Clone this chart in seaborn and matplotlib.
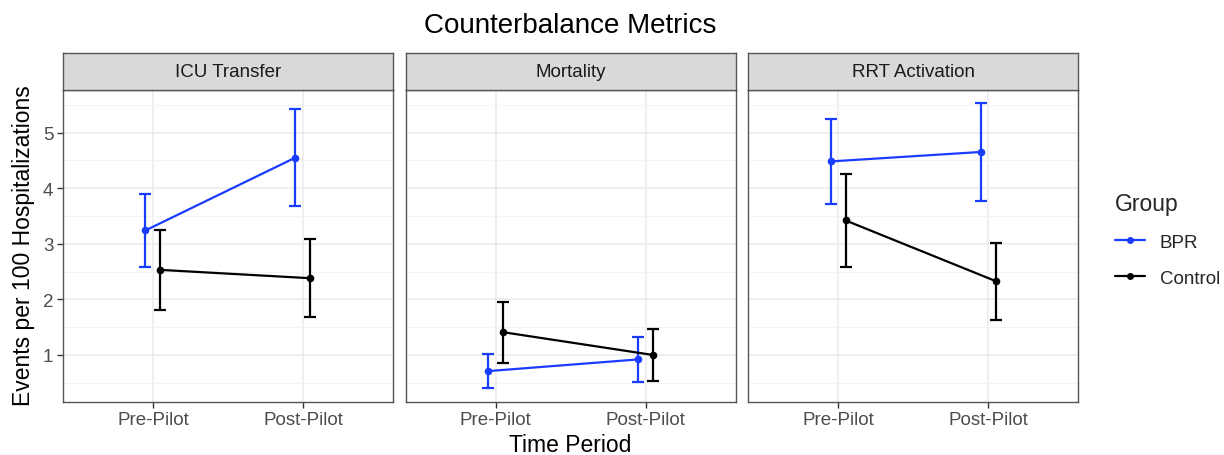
import numpy as np
import pandas as pd
import matplotlib
matplotlib.use("Agg")
import matplotlib.pyplot as plt
from matplotlib.lines import Line2D
import seaborn as sns

# ---- data ----
metrics = ["ICU Transfer", "Mortality", "RRT Activation"]
periods = ["Pre-Pilot", "Post-Pilot"]
groups = ["BPR", "Control"]

bpr_mean = {"ICU Transfer": [3.24, 4.55], "Mortality": [0.71, 0.92], "RRT Activation": [4.48, 4.65]}
bpr_low = {"ICU Transfer": [2.59, 3.68], "Mortality": [0.40, 0.52], "RRT Activation": [3.72, 3.76]}
bpr_high = {"ICU Transfer": [3.89, 5.43], "Mortality": [1.02, 1.33], "RRT Activation": [5.25, 5.53]}

ctl_mean = {"ICU Transfer": [2.53, 2.38], "Mortality": [1.41, 1.00], "RRT Activation": [3.42, 2.33]}
ctl_low = {"ICU Transfer": [1.81, 1.68], "Mortality": [0.86, 0.54], "RRT Activation": [2.58, 1.63]}
ctl_high = {"ICU Transfer": [3.25, 3.08], "Mortality": [1.96, 1.46], "RRT Activation": [4.26, 3.01]}

colors = {"BPR": "#1a3cff", "Control": "#000000"}

rows = []
for m in metrics:
    for i, p in enumerate(periods):
        rows.append(dict(metric=m, period=p, group="BPR", value=bpr_mean[m][i],
                         lo=bpr_low[m][i], hi=bpr_high[m][i]))
        rows.append(dict(metric=m, period=p, group="Control", value=ctl_mean[m][i],
                         lo=ctl_low[m][i], hi=ctl_high[m][i]))
df = pd.DataFrame(rows)

sns.set_theme(style="white")
plt.rcParams["font.family"] = ["Liberation Sans", "DejaVu Sans"]

W, H = 1224, 456
fig = plt.figure(figsize=(W / 100, H / 100), dpi=100)
fig.patch.set_facecolor("white")

panel_left_px = [63, 405.5, 748]
panel_w_px = 330
panel_top_px = 90.7
panel_bot_px = 402.7
strip_top_px = 54

dodge = 0.05
offsets = {"BPR": -dodge, "Control": dodge}
border_col = "#555555"
grid_major = "#EBEBEB"
grid_minor = "#F4F4F4"

for k, m in enumerate(metrics):
    l = panel_left_px[k] / W
    b = (H - panel_bot_px) / H
    w = panel_w_px / W
    h = (panel_bot_px - panel_top_px) / H
    ax = fig.add_axes([l, b, w, h])
    sub = df[df.metric == m].copy()
    sub["x"] = sub["period"].map({p: i for i, p in enumerate(periods)}) + sub["group"].map(offsets)

    for g in groups:
        s = sub[sub.group == g]
        ax.errorbar(s["x"], s["value"], yerr=[s["value"] - s["lo"], s["hi"] - s["value"]],
                    fmt="none", ecolor=colors[g], elinewidth=1.6, capsize=4.6,
                    capthick=1.6, zorder=3)
    sns.lineplot(data=sub, x="x", y="value", hue="group", palette=colors,
                 hue_order=groups, marker="o", markersize=5.5, markeredgewidth=0,
                 linewidth=1.6, ax=ax, legend=False, zorder=4, sort=True,
                 estimator=None, errorbar=None)

    ax.set_xlim(-0.6, 1.6)
    ax.set_ylim(0.16, 5.77)
    ax.set_xticks(range(len(periods)))
    ax.set_xticklabels(periods)
    ax.set_yticks([1, 2, 3, 4, 5])
    ax.set_yticks([0.5, 1.5, 2.5, 3.5, 4.5, 5.5], minor=True)
    ax.set_facecolor("white")
    ax.grid(True, which="major", color=grid_major, linewidth=1.1)
    ax.grid(True, which="minor", axis="y", color=grid_minor, linewidth=0.8)
    ax.set_axisbelow(True)
    for sp in ax.spines.values():
        sp.set_visible(True)
        sp.set_color(border_col)
        sp.set_linewidth(1.0)
    ax.tick_params(axis="x", which="major", length=4, width=1, color="#333333",
                   labelsize=13.5, labelcolor="#4D4D4D", pad=3, bottom=True)
    ax.tick_params(axis="y", which="major", length=4, width=1, color="#333333",
                   labelsize=13.5, labelcolor="#4D4D4D", pad=3, left=True)
    ax.tick_params(axis="y", which="minor", length=0)
    ax.set_xlabel("")
    ax.set_ylabel("")
    if k > 0:
        ax.tick_params(axis="y", which="major", labelleft=False, left=False)

    # strip
    sb = (H - panel_top_px) / H
    sh = (panel_top_px - strip_top_px) / H
    sax = fig.add_axes([l, sb, w, sh])
    sax.set_facecolor("#D9D9D9")
    sax.set_xticks([])
    sax.set_yticks([])
    for sp in sax.spines.values():
        sp.set_visible(True)
        sp.set_color(border_col)
        sp.set_linewidth(1.0)
    sax.text(0.5, 0.5, m, ha="center", va="center", fontsize=13.5, color="#1A1A1A",
             transform=sax.transAxes)

# titles
fig.text(570 / W, 1 - 26 / H, "Counterbalance Metrics", ha="center", va="center",
         fontsize=20, color="black")
fig.text(570 / W, 1 - 446 / H, "Time Period", ha="center", va="center",
         fontsize=16.5, color="black")
fig.text(24 / W, 1 - 246 / H, "Events per 100 Hospitalizations", ha="center",
         va="center", rotation=90, fontsize=16.5, color="black")

# legend
handles = [Line2D([0], [0], color=colors[g], lw=1.6, marker="o", markersize=5,
                  markeredgewidth=0) for g in groups]
leg = fig.legend(handles, groups, title="Group", loc="upper left",
                 bbox_to_anchor=(1111 / W, 1 - 189 / H), frameon=False,
                 fontsize=13.5, title_fontsize=16.5, handlelength=1.6,
                 handletextpad=0.8, labelspacing=1.0, borderaxespad=0,
                 borderpad=0.2)
leg._legend_box.align = "left"

fig.savefig("out.png", dpi=100, facecolor="white")
